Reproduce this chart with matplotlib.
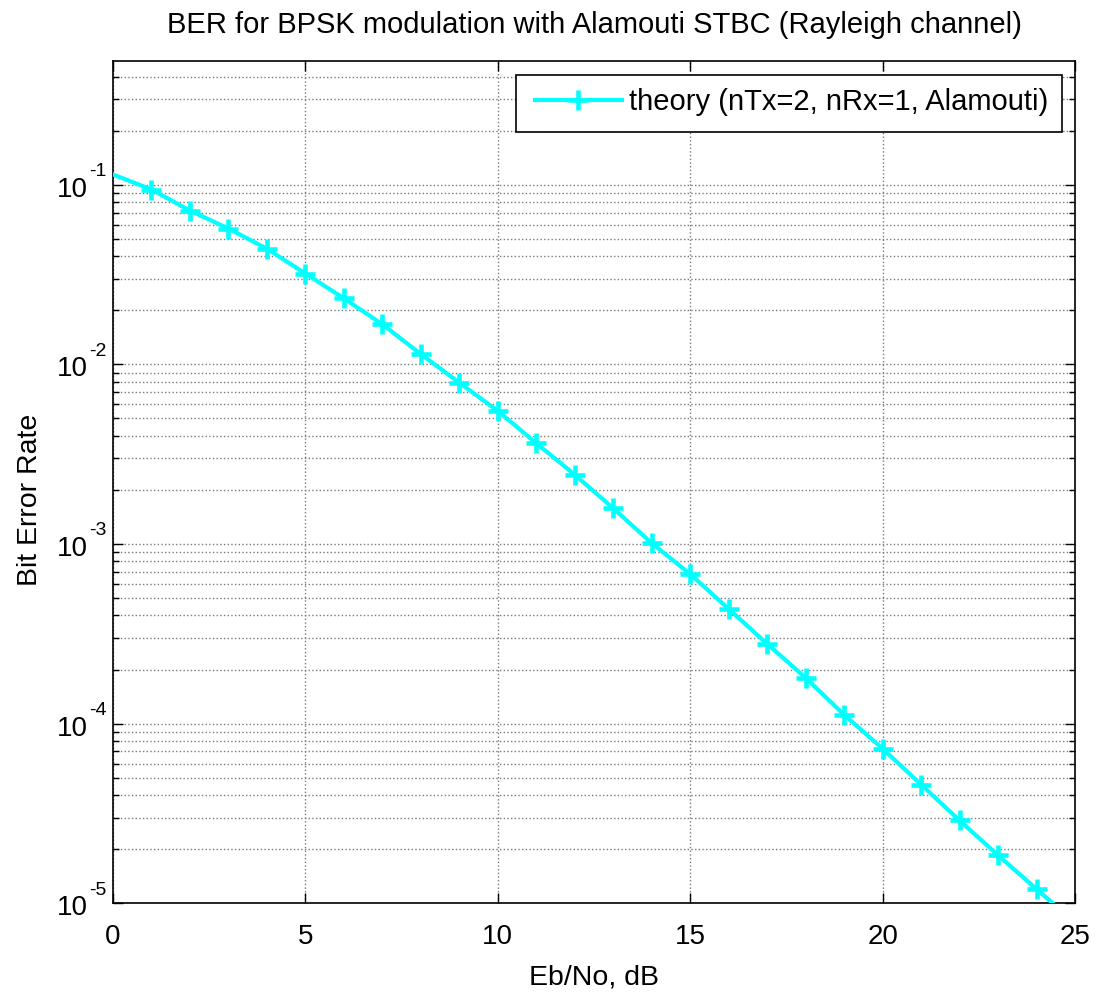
import matplotlib
matplotlib.use("Agg")
import matplotlib.pyplot as plt
from matplotlib.ticker import LogLocator
from matplotlib.transforms import offset_copy
from matplotlib.patches import Rectangle

plt.rcParams['font.family'] = ['Liberation Sans', 'DejaVu Sans']
plt.rcParams['axes.unicode_minus'] = False

# Data
eb_no_db = [0, 1, 2, 3, 4, 5, 6, 7, 8, 9, 10, 11, 12, 13, 14, 15, 16, 17, 18,
            19, 20, 21, 22, 23, 24, 25]
theory_ber = [0.114, 0.094, 0.0717, 0.057, 0.044, 0.032, 0.0233, 0.0167,
              0.0114, 0.0079, 0.0055, 0.00364, 0.00243, 0.00158, 0.00101,
              0.00068, 0.000435, 0.000278, 0.00018, 0.000112, 7.26e-5,
              4.58e-5, 2.89e-5, 1.85e-5, 1.2e-5, 7.8e-6]
x_ticks = [0, 5, 10, 15, 20, 25]
y_tick_exponents = [-5, -4, -3, -2, -1]
title = "BER for BPSK modulation with Alamouti STBC (Rayleigh channel)"
legend_label = "theory (nTx=2, nRx=1, Alamouti)"

W, H = 1098, 992
fig = plt.figure(figsize=(W / 100, H / 100), dpi=100)
left, right, top, bottom = 113, 1075, 60.7, 903.3
ax = fig.add_axes([left / W, 1 - bottom / H, (right - left) / W, (bottom - top) / H])

ax.semilogy(eb_no_db, theory_ber, color='#00FFFF', linestyle='-', linewidth=3,
            marker='+', markersize=14, markeredgewidth=3.3,
            markevery=slice(1, None), label=legend_label, zorder=3)

ax.set_xlim(0, 25)
ax.set_ylim(1e-5, 0.49)
ax.set_xticks(x_ticks)
ax.yaxis.set_major_locator(LogLocator(base=10, numticks=10))
ax.yaxis.set_minor_locator(LogLocator(base=10, subs=range(2, 10), numticks=20))

ax.grid(True, which='major', color='#7a7a7a', linestyle=':', linewidth=1.0)
ax.grid(True, which='minor', axis='y', color='#7a7a7a', linestyle=':', linewidth=1.0)

ax.tick_params(which='both', direction='in', top=True, right=True,
               labelsize=20, width=1.0)
ax.tick_params(which='major', length=7)
ax.tick_params(axis='x', which='major', pad=15)
ax.tick_params(which='minor', length=4)
ax.tick_params(axis='x', which='minor', bottom=False, top=False)
ax.tick_params(axis='y', which='both', labelleft=False)
for s in ax.spines.values():
    s.set_linewidth(1.2)
    s.set_color('black')

# y tick labels in MATLAB style: "10" with a raised exponent
ytr = ax.get_yaxis_transform()
base_tr = offset_copy(ytr, fig=fig, x=0, y=-12, units='dots')
exp_tr = offset_copy(ytr, fig=fig, x=0, y=8.5, units='dots')
xlab = (88 - left) / (right - left)
for e in y_tick_exponents:
    ax.text(xlab, 10.0 ** e, "10", transform=base_tr, ha='right', va='baseline',
            fontsize=20, clip_on=False)
    ax.text(xlab + 0.001, 10.0 ** e, str(e), transform=exp_tr, ha='left',
            va='baseline', fontsize=14, clip_on=False)

ax.set_title(title, fontsize=21, pad=19.7)
ax.set_xlabel("Eb/No, dB", fontsize=20.5, labelpad=10)
ax.set_ylabel("Bit Error Rate", fontsize=20.5)
ax.yaxis.set_label_coords((43 - left) / (right - left), (bottom - 500) / (bottom - top))

# legend with MATLAB-like box
bx0, bx1, by0, by1 = 515.7, 1061.7, 75, 131.7
ax.add_patch(Rectangle(((bx0 - left) / (right - left), (bottom - by1) / (bottom - top)),
                       (bx1 - bx0) / (right - left), (by1 - by0) / (bottom - top),
                       transform=ax.transAxes, facecolor='white', edgecolor='black',
                       linewidth=1.2, zorder=4, clip_on=False))
leg = ax.legend(loc='center left', fontsize=21, frameon=False,
                handlelength=2.98, handletextpad=0.27, borderpad=0,
                borderaxespad=0,
                bbox_to_anchor=((534.7 - left) / (right - left),
                                (bottom - 102.3) / (bottom - top)))
leg.set_zorder(5)

fig.savefig("out.png", dpi=100)
